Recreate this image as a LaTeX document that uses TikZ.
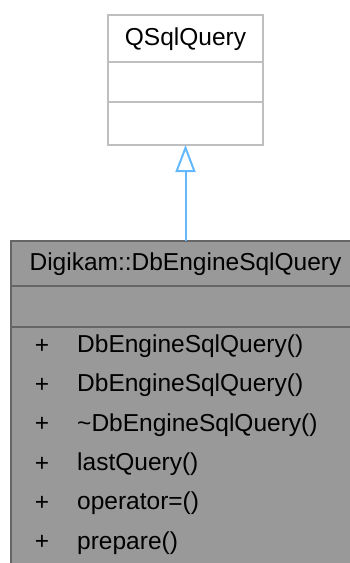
\documentclass[tikz,border=0pt]{standalone}
\usepackage{fontspec}
\setmainfont{Liberation Sans}
\usetikzlibrary{arrows.meta}
\definecolor{topborder}{HTML}{BFBFBF}
\definecolor{lowfill}{HTML}{999999}
\definecolor{lowborder}{HTML}{666666}
\definecolor{arrowblue}{HTML}{63B8FF}
\begin{document}
\begin{tikzpicture}[x=1pt,y=-1pt,
  txt/.style={font=\fontsize{24.5}{28}\selectfont, inner sep=0pt, text=black},
  toprect/.style={draw=topborder, line width=2pt, fill=white},
  lowrect/.style={draw=lowborder, line width=2pt, fill=lowfill}]
\clip (0,0) rectangle (350,563);
% top box
\draw[toprect] (108,15) rectangle (263,145);
\draw[topborder, line width=2pt] (108,62) -- (263,62);
\draw[topborder, line width=2pt] (108,102) -- (263,102);
\node[txt] (qsql) at (185.5,39) {QSqlQuery};
\coordinate (qbot) at (185.5,145);
% lower box
\draw[lowrect] (11,241) rectangle (359,600);
\draw[lowborder, line width=2pt] (11,286) -- (359,286);
\draw[lowborder, line width=2pt] (11,327) -- (359,327);
\node[txt] (dbe) at (185.5,264) {Digikam::DbEngineSqlQuery};
\coordinate (dtop) at (185.5,241);
\foreach \t [count=\i] in {DbEngineSqlQuery(),DbEngineSqlQuery(),\textasciitilde DbEngineSqlQuery(),lastQuery(),operator=(),prepare()} {
  \node[txt] (p\i) at (42,{307+39.3*\i}) {+};
  \node[txt, anchor=west] (m\i) at (77,{307+39.3*\i}) {\t};
}
% inheritance arrow
\draw[arrowblue, line width=2pt, -{Triangle[open, width=20pt, length=27pt, line width=2pt]}] (dtop) -- (qbot);
\end{tikzpicture}
\end{document}
